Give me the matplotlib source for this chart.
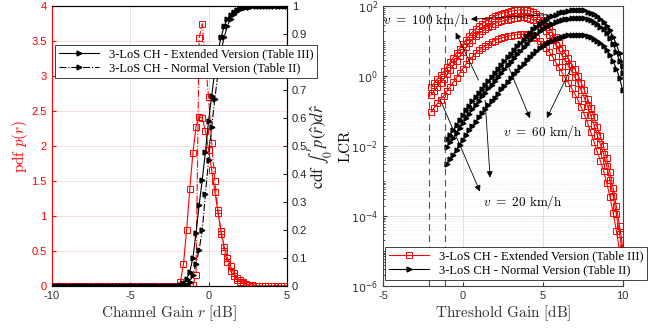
import numpy as np
import matplotlib
matplotlib.use("Agg")
import matplotlib.pyplot as plt
from matplotlib.ticker import FuncFormatter, LogLocator, NullFormatter

plt.rcParams['font.family'] = ['Liberation Sans', 'DejaVu Sans']
plt.rcParams['font.size'] = 8

# ---------------- left panel: pdf / cdf of channel gain ----------------
r_db = np.round(np.arange(-10, 5.0001, 0.2), 1)   # 76 samples

# pdf p(r), values from -10 to -2.2 dB are zero (40 samples)
pdf_ext = [0.0] * 40 + [0.00, 0.06, 0.31, 0.80, 1.38, 1.90, 2.28, 2.42, 2.40, 2.22,
                        1.95, 1.66, 1.35, 1.05, 0.78, 0.56, 0.40, 0.28, 0.19, 0.12,
                        0.08, 0.05, 0.03, 0.02, 0.01, 0.005, 0.0, 0.0, 0.0, 0.0,
                        0.0, 0.0, 0.0, 0.0, 0.0, 0.0]
pdf_norm = [0.0] * 40 + [0.0, 0.0, 0.0, 0.0, 0.0, 0.02, 0.15, 3.55, 3.75, 3.20,
                         2.70, 2.05, 1.50, 1.08, 0.75, 0.50, 0.34, 0.22, 0.14, 0.09,
                         0.06, 0.04, 0.02, 0.01, 0.005, 0.0, 0.0, 0.0, 0.0, 0.0,
                         0.0, 0.0, 0.0, 0.0, 0.0, 0.0]
# cdf
cdf_ext = [0.0] * 40 + [0.0, 0.002, 0.01, 0.025, 0.05, 0.10, 0.19, 0.29, 0.38, 0.48,
                        0.59, 0.68, 0.77, 0.84, 0.89, 0.93, 0.955, 0.97, 0.98, 0.988,
                        0.993, 0.996, 0.998, 0.999, 1.0, 1.0, 1.0, 1.0, 1.0, 1.0,
                        1.0, 1.0, 1.0, 1.0, 1.0, 1.0]
cdf_norm = [0.0] * 40 + [0.0, 0.0, 0.0, 0.005, 0.015, 0.04, 0.08, 0.13, 0.20, 0.33,
                         0.45, 0.57, 0.67, 0.76, 0.84, 0.89, 0.93, 0.955, 0.972, 0.983,
                         0.99, 0.995, 0.998, 0.999, 1.0, 1.0, 1.0, 1.0, 1.0, 1.0,
                         1.0, 1.0, 1.0, 1.0, 1.0, 1.0]

# ---------------- right panel: LCR vs threshold (log10 of LCR) ----------------
thr_red = np.round(np.arange(-2, 10.0001, 0.2), 1)    # 61 samples
thr_black = np.round(np.arange(-1, 10.0001, 0.2), 1)  # 56 samples

lcr_red_100 = [-0.32, -0.20, -0.08, 0.03, 0.14, 0.27, 0.40, 0.53, 0.66, 0.79, 0.92, 1.05, 1.16,
               1.27, 1.36, 1.44, 1.50, 1.56, 1.62, 1.67, 1.72, 1.76, 1.79, 1.82, 1.84, 1.86,
               1.88, 1.89, 1.90, 1.90, 1.89, 1.87, 1.83, 1.78, 1.71, 1.62, 1.52, 1.40, 1.26,
               1.11, 0.96, 0.81, 0.66, 0.51, 0.36, 0.20, 0.02, -0.18, -0.40, -0.64, -0.90,
               -1.17, -1.45, -1.72, -2.00, -2.35, -2.75, -3.20, -3.72, -4.28, -4.90]
lcr_red_60 = [-0.54, -0.42, -0.30, -0.19, -0.08, 0.05, 0.18, 0.31, 0.44, 0.57, 0.70, 0.83, 0.94,
              1.05, 1.14, 1.22, 1.28, 1.34, 1.40, 1.45, 1.50, 1.54, 1.57, 1.60, 1.62, 1.64,
              1.66, 1.67, 1.68, 1.68, 1.67, 1.65, 1.61, 1.56, 1.49, 1.40, 1.30, 1.18, 1.04,
              0.89, 0.74, 0.59, 0.44, 0.29, 0.14, -0.02, -0.20, -0.40, -0.62, -0.86, -1.12,
              -1.39, -1.67, -1.94, -2.22, -2.57, -2.97, -3.42, -3.94, -4.50, -5.12]
lcr_red_20 = [-1.02, -0.90, -0.78, -0.67, -0.56, -0.43, -0.30, -0.17, -0.04, 0.09, 0.22, 0.35, 0.46,
              0.57, 0.66, 0.74, 0.80, 0.86, 0.92, 0.97, 1.02, 1.06, 1.09, 1.12, 1.14, 1.16,
              1.18, 1.19, 1.20, 1.20, 1.19, 1.17, 1.13, 1.08, 1.01, 0.92, 0.82, 0.70, 0.56,
              0.41, 0.26, 0.11, -0.04, -0.19, -0.34, -0.50, -0.68, -0.88, -1.10, -1.34, -1.60,
              -1.87, -2.15, -2.42, -2.70, -3.05, -3.45, -3.90, -4.42, -4.98, -5.60]

lcr_black_100 = [-1.80, -1.67, -1.54, -1.40, -1.26, -1.12, -0.98, -0.85, -0.72, -0.60, -0.48,
                 -0.36, -0.25, -0.13, -0.02, 0.09, 0.20, 0.32, 0.43, 0.54, 0.64, 0.75, 0.85,
                 0.95, 1.05, 1.15, 1.25, 1.34, 1.42, 1.50, 1.56, 1.62, 1.68, 1.72, 1.76, 1.80,
                 1.83, 1.85, 1.87, 1.88, 1.89, 1.89, 1.89, 1.88, 1.85, 1.82, 1.77, 1.72, 1.64,
                 1.56, 1.45, 1.31, 1.13, 0.92, 0.65, 0.30]
lcr_black_60 = [-2.02, -1.89, -1.76, -1.62, -1.48, -1.34, -1.20, -1.07, -0.94, -0.82, -0.70,
                -0.58, -0.47, -0.35, -0.24, -0.13, -0.02, 0.10, 0.21, 0.32, 0.42, 0.53, 0.63,
                0.73, 0.83, 0.93, 1.03, 1.12, 1.20, 1.28, 1.34, 1.40, 1.46, 1.50, 1.54, 1.58,
                1.61, 1.63, 1.65, 1.66, 1.67, 1.67, 1.67, 1.66, 1.63, 1.60, 1.55, 1.50, 1.42,
                1.34, 1.23, 1.09, 0.91, 0.70, 0.43, 0.08]
lcr_black_20 = [-2.50, -2.37, -2.24, -2.10, -1.96, -1.82, -1.68, -1.55, -1.42, -1.30, -1.18,
                -1.06, -0.95, -0.83, -0.72, -0.61, -0.50, -0.38, -0.27, -0.16, -0.06, 0.05, 0.15,
                0.25, 0.35, 0.45, 0.55, 0.64, 0.72, 0.80, 0.86, 0.92, 0.98, 1.02, 1.06, 1.10,
                1.13, 1.15, 1.17, 1.18, 1.19, 1.19, 1.19, 1.18, 1.15, 1.12, 1.07, 1.02, 0.94,
                0.86, 0.75, 0.61, 0.43, 0.22, -0.05, -0.40]

vline_x = [-2.1, -1.1]

legend_labels = ['3-LoS CH - Extended Version (Table III)',
                 '3-LoS CH - Normal Version (Table II)']

RED = '#ff0000'
CM = dict(math_fontfamily='cm')
fmt_g = FuncFormatter(lambda v, p: '%g' % v)
sq = dict(marker='s', ms=4.2, mfc='none', mew=0.7)
tri = dict(marker='>', ms=3.5)

fig = plt.figure(figsize=(6.67, 3.31), dpi=100)

# ---- left ----
ax1 = fig.add_axes([0.0775, 0.136, 0.3528, 0.845])
ax1.plot(r_db, pdf_ext, '-', color=RED, lw=0.8, **sq)
ax1.plot(r_db, pdf_norm, '-.', color=RED, lw=0.8, **sq)
ax1.set_xlim(-10, 5)
ax1.set_ylim(0, 4)
ax1.set_xticks([-10, -5, 0, 5])
ax1.set_yticks(np.arange(0, 4.01, 0.5))
ax1.xaxis.set_major_formatter(fmt_g)
ax1.yaxis.set_major_formatter(fmt_g)
ax1.grid(axis='y', color='#ffd6d6', lw=0.6)
ax1.grid(axis='x', color='#dedede', lw=0.6)
ax1.set_axisbelow(True)
ax1.tick_params(axis='y', colors=RED, direction='in', length=3)
ax1.tick_params(axis='x', direction='in', length=3, colors='#333333')
ax1.spines['left'].set_color(RED)
for s in ['top', 'bottom']:
    ax1.spines[s].set_color('#444444')
ax1.set_ylabel(r'$\mathrm{pdf}\ p(r)$', color=RED, fontsize=11, **CM)
ax1.yaxis.set_label_coords(-0.092, 0.5)
ax1.set_xlabel(r'$\mathrm{Channel\ Gain}\ r\ \mathrm{[dB]}$', fontsize=11, color='#333333',
               labelpad=2, **CM)

ax1b = ax1.twinx()
ax1b.plot(r_db, cdf_ext, '-', color='k', lw=0.8, label=legend_labels[0], **tri)
ax1b.plot(r_db, cdf_norm, '-.', color='k', lw=0.8, label=legend_labels[1], **tri)
ax1b.set_ylim(0, 1)
ax1b.set_yticks(np.arange(0, 1.001, 0.1))
ax1b.yaxis.set_major_formatter(fmt_g)
ax1b.tick_params(axis='y', direction='in', length=3, colors='#222222')
ax1b.spines['left'].set_visible(False)
ax1b.set_ylabel(r'$\mathrm{cdf}\ \int_0^r p(\hat{r})d\hat{r}$', fontsize=12,
                math_fontfamily='stix', color='#222222')
ax1b.yaxis.set_label_coords(1.08, 0.5)
leg1 = ax1b.legend(loc='upper left', bbox_to_anchor=(0.0825, 0.864),
                   bbox_transform=fig.transFigure, borderaxespad=0,
                   prop={'family': 'Liberation Serif', 'size': 9},
                   handlelength=3.2, labelspacing=0.15, borderpad=0.3,
                   fancybox=False, framealpha=1, edgecolor='#222222')
leg1.get_frame().set_linewidth(0.6)

# ---- right ----
ax2 = fig.add_axes([0.5742, 0.136, 0.3594, 0.845])
for y in [lcr_red_100, lcr_red_60, lcr_red_20]:
    ax2.semilogy(thr_red, 10.0 ** np.array(y), '-', color=RED, lw=0.8, **sq)
for y in [lcr_black_100, lcr_black_60, lcr_black_20]:
    ax2.semilogy(thr_black, 10.0 ** np.array(y), '-', color='k', lw=0.8, **tri)
for xv in vline_x:
    ax2.axvline(xv, color='#555555', lw=0.8, ls=(0, (6, 4)))
ax2.set_xlim(-5, 10)
ax2.set_ylim(1e-6, 1e2)
ax2.set_xticks([-5, 0, 5, 10])
ax2.xaxis.set_major_formatter(fmt_g)
ax2.set_yticks([1e-6, 1e-4, 1e-2, 1e0, 1e2])
ax2.yaxis.set_major_formatter(FuncFormatter(lambda v, p: r'$10^{%d}$' % round(np.log10(v))))
ax2.yaxis.set_minor_locator(LogLocator(base=10, subs=np.arange(1, 10), numticks=30))
ax2.yaxis.set_minor_formatter(NullFormatter())
ax2.grid(which='major', color='#dcdcdc', lw=0.6)
ax2.grid(which='minor', axis='y', color='#e4e4e4', lw=0.5, ls=':')
ax2.set_axisbelow(True)
ax2.tick_params(which='both', direction='in', colors='#333333')
ax2.tick_params(which='major', length=3)
ax2.tick_params(which='minor', length=1.5)
for s in ax2.spines.values():
    s.set_color('#444444')
ax2.set_ylabel(r'$\mathrm{LCR}$', fontsize=11, **CM)
ax2.yaxis.set_label_coords(-0.125, 0.5)
ax2.set_xlabel(r'$\mathrm{Threshold\ Gain\ [dB]}$', fontsize=11, color='#333333', labelpad=2, **CM)

arrow = dict(arrowstyle='-|>', color='k', lw=0.6, mutation_scale=9, shrinkA=0, shrinkB=0)
ax2.text(-4.97, 10 ** 1.6, r'$v\ =\ 100\ \mathrm{km/h}$', fontsize=9.5, ha='left', va='center', **CM)
ax2.text(5.0, 10 ** -1.6, r'$v\ =\ 60\ \mathrm{km/h}$', fontsize=9.5, ha='center', va='center', **CM)
ax2.text(3.75, 10 ** -3.6, r'$v\ =\ 20\ \mathrm{km/h}$', fontsize=9.5, ha='center', va='center', **CM)
ax2.annotate('', xy=(0.5, 10 ** 1.63), xytext=(5.3, 10 ** 1.76), arrowprops=arrow)
ax2.annotate('', xy=(-0.45, 10 ** 1.25), xytext=(0.97, 10 ** -0.11), arrowprops=arrow)
ax2.annotate('', xy=(4.2, 10 ** -1.2), xytext=(2.85, 10 ** 0.27), arrowprops=arrow)
ax2.annotate('', xy=(5.25, 10 ** -1.2), xytext=(6.7, 10 ** 0.17), arrowprops=arrow)
ax2.annotate('', xy=(1.7, 10 ** -2.9), xytext=(1.39, 10 ** -0.69), arrowprops=arrow)
ax2.annotate('', xy=(1.07, 10 ** -3.3), xytext=(-1.45, 10 ** -0.64), arrowprops=arrow)

h_red, = ax2.plot([], [], '-', color=RED, lw=0.8, **sq)
h_blk, = ax2.plot([], [], '-', color='k', lw=0.8, **tri)
leg2 = ax2.legend([h_red, h_blk], legend_labels, loc='lower left',
                  bbox_to_anchor=(0.577, 0.154), bbox_transform=fig.transFigure,
                  borderaxespad=0, prop={'family': 'Liberation Serif', 'size': 9},
                  handlelength=3.2, labelspacing=0.15, borderpad=0.3,
                  fancybox=False, framealpha=1, edgecolor='#222222')
leg2.get_frame().set_linewidth(0.6)

fig.savefig('out.png', dpi=100)
